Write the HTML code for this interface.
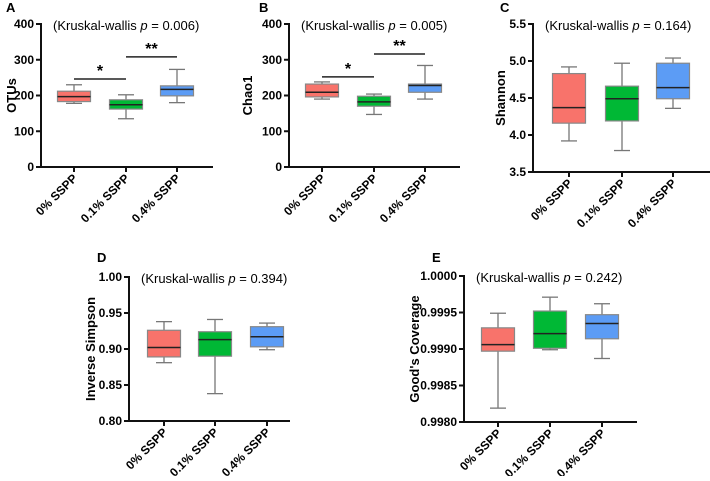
<!DOCTYPE html>
<html><head><meta charset="utf-8"><style>
body{margin:0;background:#fff;}
svg text{font-family:"Liberation Sans",Arial,sans-serif;}
</style></head><body>
<svg id="fig" width="710" height="476" xmlns="http://www.w3.org/2000/svg"></svg>
<script>
const categories=["0% SSPP","0.1% SSPP","0.4% SSPP"];
const colors=["#f8736b","#00b835","#5c9cf5"];
// A OTUs
const otusLow=[178,135,180], otusQ1=[183,162,199], otusMed=[197,174,217], otusQ3=[212,188,227], otusHigh=[230,202,273];
// B Chao1
const chaoLow=[190,147,190], chaoQ1=[196,170,209], chaoMed=[209,182,228], chaoQ3=[232,198,232], chaoHigh=[238,204,284];
// C Shannon
const shanLow=[3.92,3.79,4.36], shanQ1=[4.16,4.19,4.49], shanMed=[4.37,4.49,4.64], shanQ3=[4.83,4.66,4.97], shanHigh=[4.92,4.97,5.04];
// D Inverse Simpson
const invLow=[0.881,0.838,0.899], invQ1=[0.889,0.890,0.903], invMed=[0.902,0.913,0.917], invQ3=[0.926,0.924,0.931], invHigh=[0.938,0.941,0.936];
// E Good's coverage
const goodLow=[0.99819,0.99899,0.99887], goodQ1=[0.99897,0.99901,0.99914], goodMed=[0.99906,0.99921,0.99935], goodQ3=[0.99929,0.99952,0.99947], goodHigh=[0.99949,0.99971,0.99962];
const otusTicks=[0,100,200,300,400], chaoTicks=[0,100,200,300,400];
const shanTicks=[3.5,4.0,4.5,5.0,5.5], invTicks=[0.80,0.85,0.90,0.95,1.00], goodTicks=[0.9980,0.9985,0.9990,0.9995,1.0000];
const otusSig=[246,308], chaoSig=[252,316];

const NS="http://www.w3.org/2000/svg";
const svg=document.getElementById('fig');
function mk(tag,attrs,parent,name){const e=document.createElementNS(NS,tag);for(const k in attrs)e.setAttribute(k,attrs[k]);(parent||svg).appendChild(e);


return e;}

function panel(o){
  const g=mk('g',{},svg,o.id+'-panel');
  const ymin=o.ticks[0], ymax=o.ticks[o.ticks.length-1];
  const y=v=>o.bot-(v-ymin)/(ymax-ymin)*(o.bot-o.top);
  const x=i=>o.xs[i];
  let t=mk('text',{x:o.lx,y:o.ly,'font-size':13,'font-weight':'bold'},g,'panel-letter');t.textContent=o.letter;
  t=mk('text',{x:o.ax+12,y:o.top+6,'font-size':13},g,'kruskal-wallis-annotation');
  t.innerHTML='(Kruskal-wallis <tspan font-style="italic">p</tspan> = '+o.p+')';
  t=mk('text',{x:o.tx,y:(o.top+o.bot)/2,'font-size':13,'font-weight':'bold','text-anchor':'middle',transform:`rotate(-90 ${o.tx} ${(o.top+o.bot)/2})`},g,'y-axis-title');t.textContent=o.title;
  mk('line',{x1:o.ax,y1:o.top-1,x2:o.ax,y2:o.bot+1,stroke:'#111','stroke-width':2},g,'y-axis-line');
  mk('line',{x1:o.ax-1,y1:o.bot,x2:o.axEnd,y2:o.bot,stroke:'#111','stroke-width':2},g,'x-axis-line');
  o.ticks.forEach(v=>{
    mk('line',{x1:o.ax-5,y1:y(v),x2:o.ax,y2:y(v),stroke:'#111','stroke-width':2},g,'y-tick');
    const tt=mk('text',{x:o.ax-7,y:y(v)+4,'font-size':12,'font-weight':'bold','text-anchor':'end'},g,'y-tick-label');
    tt.textContent=v.toFixed(o.dec);
  });
  categories.forEach((c,i)=>{
    mk('line',{x1:x(i),y1:o.bot,x2:x(i),y2:o.bot+5,stroke:'#111','stroke-width':2},g,'x-tick');
    const lx=x(i)+4, ly=o.bot+12;
    const tt=mk('text',{x:lx,y:ly,'font-size':12,'font-weight':'bold','text-anchor':'end',transform:`rotate(-45 ${lx} ${ly})`},g,'x-tick-label');
    tt.textContent=c;
    const bw=33, cw=16, bg=mk('g',{},g,'box-'+(i===0?'0pct':i===1?'0p1pct':'0p4pct'));
    mk('line',{x1:x(i),y1:y(o.hi[i]),x2:x(i),y2:y(o.q3[i]),stroke:'#777','stroke-width':1.3},bg,'upper-whisker');
    mk('line',{x1:x(i),y1:y(o.lo[i]),x2:x(i),y2:y(o.q1[i]),stroke:'#777','stroke-width':1.3},bg,'lower-whisker');
    mk('line',{x1:x(i)-cw/2,y1:y(o.hi[i]),x2:x(i)+cw/2,y2:y(o.hi[i]),stroke:'#777','stroke-width':1.3},bg,'upper-cap');
    mk('line',{x1:x(i)-cw/2,y1:y(o.lo[i]),x2:x(i)+cw/2,y2:y(o.lo[i]),stroke:'#777','stroke-width':1.3},bg,'lower-cap');
    mk('rect',{x:x(i)-bw/2,y:y(o.q3[i]),width:bw,height:y(o.q1[i])-y(o.q3[i]),fill:colors[i],stroke:'#888','stroke-width':1.2},bg,'iqr-box');
    mk('line',{x1:x(i)-bw/2,y1:y(o.med[i]),x2:x(i)+bw/2,y2:y(o.med[i]),stroke:'#222','stroke-width':1.5},bg,'median-line');
  });
  if(o.sig){
    [[0,1,'*'],[1,2,'**']].forEach((s,k)=>{
      const yy=y(o.sig[k]);
      mk('line',{x1:x(s[0]),y1:yy,x2:x(s[1]),y2:yy,stroke:'#222','stroke-width':1.5},g,'significance-bar');
      const st=mk('text',{x:(x(s[0])+x(s[1]))/2,y:yy-3,'font-size':16,'font-weight':'bold','text-anchor':'middle'},g,'significance-stars');
      st.textContent=s[2];
    });
  }
}
panel({id:'a',letter:'A',lx:6,ly:12,title:'OTUs',tx:16,ax:41,axEnd:213,top:24,bot:167,xs:[74,126,177],ticks:otusTicks,dec:0,p:'0.006',lo:otusLow,q1:otusQ1,med:otusMed,q3:otusQ3,hi:otusHigh,sig:otusSig});
panel({id:'b',letter:'B',lx:259,ly:12,title:'Chao1',tx:252,ax:289,axEnd:460,top:24,bot:167,xs:[322,374,425],ticks:chaoTicks,dec:0,p:'0.005',lo:chaoLow,q1:chaoQ1,med:chaoMed,q3:chaoQ3,hi:chaoHigh,sig:chaoSig});
panel({id:'c',letter:'C',lx:500,ly:12,title:'Shannon',tx:505,ax:533,axEnd:710,top:24,bot:172,xs:[569,622,673],ticks:shanTicks,dec:1,p:'0.164',lo:shanLow,q1:shanQ1,med:shanMed,q3:shanQ3,hi:shanHigh});
panel({id:'d',letter:'D',lx:97,ly:262,title:'Inverse Simpson',tx:95,ax:129,axEnd:290,top:277,bot:421,xs:[164,215,267],ticks:invTicks,dec:2,p:'0.394',lo:invLow,q1:invQ1,med:invMed,q3:invQ3,hi:invHigh});
panel({id:'e',letter:'E',lx:432,ly:262,title:"Good's Coverage",tx:419,ax:464,axEnd:637,top:276,bot:422,xs:[498,550,602],ticks:goodTicks,dec:4,p:'0.242',lo:goodLow,q1:goodQ1,med:goodMed,q3:goodQ3,hi:goodHigh});
</script>
</body></html>
